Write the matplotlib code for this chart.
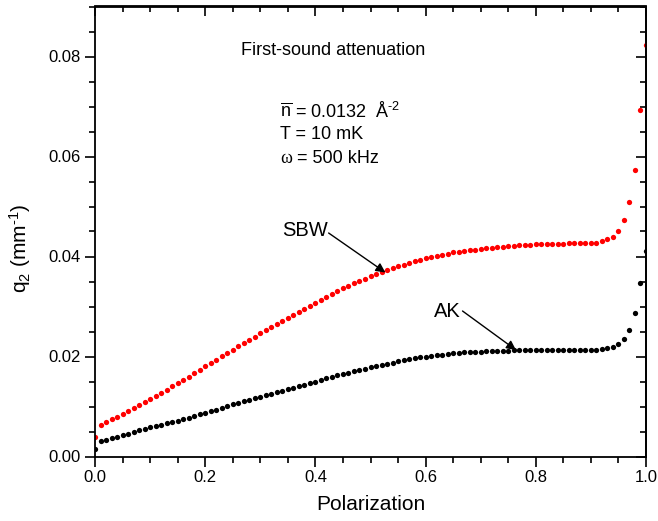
import numpy as np
import matplotlib
matplotlib.use("Agg")
import matplotlib.pyplot as plt
from matplotlib.ticker import MultipleLocator

plt.rcParams['font.family'] = ['Liberation Sans', 'DejaVu Sans']
plt.rcParams['mathtext.fontset'] = 'custom'
plt.rcParams['mathtext.rm'] = 'Liberation Sans'
plt.rcParams['mathtext.it'] = 'Liberation Sans:italic'
plt.rcParams['mathtext.bf'] = 'Liberation Sans:bold'

polarization = [round(i * 0.01, 2) for i in range(101)]

sbw = [0.0040, 0.0063, 0.0069, 0.0075, 0.0080, 0.0086, 0.0092, 0.0098, 0.0104, 0.0110,
       0.0116, 0.0122, 0.0128, 0.0134, 0.0141, 0.0147, 0.0154, 0.0160, 0.0167, 0.0174,
       0.0181, 0.0188, 0.0194, 0.0201, 0.0208, 0.0214, 0.0221, 0.0227, 0.0234, 0.0240,
       0.0247, 0.0253, 0.0259, 0.0266, 0.0272, 0.0278, 0.0284, 0.0290, 0.0296, 0.0302,
       0.0308, 0.0314, 0.0320, 0.0326, 0.0332, 0.0337, 0.0342, 0.0347, 0.0352, 0.0356,
       0.0361, 0.0365, 0.0369, 0.0373, 0.0377, 0.0381, 0.0384, 0.0388, 0.0391, 0.0394,
       0.0397, 0.0399, 0.0402, 0.0404, 0.0406, 0.0408, 0.0410, 0.0411, 0.0413, 0.0414,
       0.0416, 0.0417, 0.0418, 0.0419, 0.0420, 0.0421, 0.0422, 0.0423, 0.0424, 0.0424,
       0.0425, 0.0425, 0.0426, 0.0426, 0.0426, 0.0426, 0.0427, 0.0427, 0.0427, 0.0427,
       0.0427, 0.0428, 0.0431, 0.0435, 0.0440, 0.0452, 0.0473, 0.0509, 0.0573, 0.0693,
       0.0823]

ak = [0.0015, 0.0031, 0.0034, 0.0037, 0.0040, 0.0043, 0.0046, 0.0050, 0.0053, 0.0056,
      0.0059, 0.0061, 0.0064, 0.0067, 0.0070, 0.0072, 0.0075, 0.0078, 0.0081, 0.0085,
      0.0088, 0.0091, 0.0094, 0.0098, 0.0101, 0.0105, 0.0108, 0.0111, 0.0114, 0.0117,
      0.0120, 0.0123, 0.0126, 0.0129, 0.0132, 0.0135, 0.0138, 0.0141, 0.0144, 0.0147,
      0.0150, 0.0153, 0.0157, 0.0160, 0.0163, 0.0166, 0.0168, 0.0171, 0.0174, 0.0176,
      0.0179, 0.0181, 0.0184, 0.0186, 0.0188, 0.0191, 0.0193, 0.0195, 0.0197, 0.0199,
      0.0200, 0.0202, 0.0203, 0.0204, 0.0206, 0.0207, 0.0208, 0.0209, 0.0209, 0.0210,
      0.0210, 0.0211, 0.0211, 0.0212, 0.0212, 0.0212, 0.0213, 0.0213, 0.0213, 0.0213,
      0.0213, 0.0213, 0.0213, 0.0213, 0.0213, 0.0213, 0.0213, 0.0213, 0.0213, 0.0213,
      0.0213, 0.0213, 0.0215, 0.0217, 0.0220, 0.0226, 0.0236, 0.0254, 0.0287, 0.0347,
      0.0412]

fig = plt.figure(figsize=(6.58, 5.21), dpi=100)
ax = fig.add_axes([95 / 658, 1 - 456.5 / 521, 551 / 658, 450 / 521])

ax.plot(polarization, sbw, 'o', color='#ff0000', ms=3.8, mew=0)
ax.plot(polarization, ak, 'o', color='black', ms=3.8, mew=0)

ax.set_xlim(0, 1.0)
ax.set_ylim(0, 0.09)
ax.xaxis.set_major_locator(MultipleLocator(0.2))
ax.xaxis.set_minor_locator(MultipleLocator(0.05))
ax.yaxis.set_major_locator(MultipleLocator(0.02))
ax.yaxis.set_minor_locator(MultipleLocator(0.005))
ax.xaxis.set_major_formatter(plt.FuncFormatter(lambda v, p: f"{v:.1f}"))
ax.yaxis.set_major_formatter(plt.FuncFormatter(lambda v, p: f"{v:.2f}"))

for s in ax.spines.values():
    s.set_linewidth(1.3)

ax.tick_params(which='both', direction='out', top=False, right=False, labelsize=12, width=1.2)
ax.tick_params(which='major', length=7, pad=3)
ax.tick_params(which='minor', length=4.5)

# inward ticks on top and right (mirror)
axt = ax.secondary_xaxis('top')
axt.xaxis.set_major_locator(MultipleLocator(0.2))
axt.xaxis.set_minor_locator(MultipleLocator(0.05))
axt.tick_params(which='both', direction='in', labeltop=False, width=1.2)
axt.tick_params(which='major', length=7)
axt.tick_params(which='minor', length=4.5)
axt.spines['top'].set_linewidth(1.3)
axr = ax.secondary_yaxis('right')
axr.yaxis.set_major_locator(MultipleLocator(0.02))
axr.yaxis.set_minor_locator(MultipleLocator(0.005))
axr.tick_params(which='both', direction='in', labelright=False, width=1.2)
axr.tick_params(which='major', length=7)
axr.tick_params(which='minor', length=4.5)
axr.spines['right'].set_linewidth(1.3)

ax.set_xlabel('Polarization', fontsize=15)
ax.set_ylabel(r'q$_{\mathregular{2}}$ (mm$^{\text{-1}}$)', fontsize=15)
ax.xaxis.set_label_coords(0.5, -0.085)
ax.yaxis.set_label_coords(-0.112, 0.463)

ax.text(0.265, 0.903, 'First-sound attenuation', transform=ax.transAxes,
        fontsize=13, ha='left', va='center')
ax.text(0.336, 0.765, r'$\overline{\mathrm{n}}$ = 0.0132  Å$^{\text{-2}}$',
        transform=ax.transAxes, fontsize=13, ha='left', va='center')
ax.text(0.336, 0.715, 'T = 10 mK', transform=ax.transAxes, fontsize=13, ha='left', va='center')
ax.text(0.336, 0.662, 'ω', transform=ax.transAxes, fontsize=13, ha='left', va='center',
        family=['Liberation Serif', 'DejaVu Serif'])
ax.text(0.367, 0.662, '= 500 kHz', transform=ax.transAxes, fontsize=13, ha='left', va='center')

arrow = dict(arrowstyle='-|>', color='black', lw=1.0, mutation_scale=14, shrinkA=0, shrinkB=0)
ax.annotate('', xy=(0.527, 0.0368), xytext=(0.424, 0.0447), arrowprops=arrow)
ax.text(0.422, 0.0452, 'SBW', fontsize=14.5, ha='right', va='center')
ax.annotate('', xy=(0.764, 0.0213), xytext=(0.667, 0.0291), arrowprops=arrow)
ax.text(0.664, 0.0290, 'AK', fontsize=14.5, ha='right', va='center')

fig.savefig('out.png', dpi=100)
